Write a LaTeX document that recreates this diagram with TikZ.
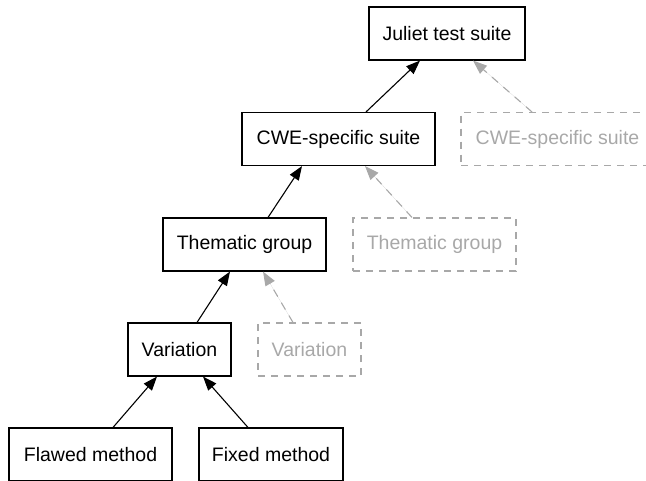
\documentclass[tikz,border=0pt]{standalone}
\usepackage{fontspec}
\setmainfont{Liberation Sans}
\usetikzlibrary{arrows.meta}
\definecolor{ghost}{HTML}{A8A8A8}
\tikzset{
  box/.style={draw=black, line width=1.1pt, rectangle, minimum height=53pt, inner sep=0pt,
    font=\fontsize{19.5}{22}\selectfont, text=black},
  ghostbox/.style={box, draw=ghost, text=ghost, dash pattern=on 7pt off 6pt},
  link/.style={line width=1.1pt, -{Triangle[length=14pt,width=10.5pt]}},
  ghostlink/.style={link, draw=ghost, fill=ghost, dash pattern=on 8pt off 7pt},
}
\begin{document}
\begin{tikzpicture}[x=1pt,y=-1pt]
\clip (0,0) rectangle (646,480);
\node[box, minimum width=156pt] (juliet) at (447,33.5) {Juliet test suite};
\node[box, minimum width=193pt] (cwe) at (338.5,139) {CWE-specific suite};
\node[ghostbox, minimum width=193pt] (gcwe) at (557.5,139) {CWE-specific suite};
\node[box, minimum width=163pt] (them) at (244.5,244.5) {Thematic group};
\node[ghostbox, minimum width=163pt] (gthem) at (434.5,244.5) {Thematic group};
\node[box, minimum width=103pt] (var) at (179.5,349.5) {Variation};
\node[ghostbox, minimum width=103pt] (gvar) at (309.5,349.5) {Variation};
\node[box, minimum width=163pt] (flawed) at (90.5,454.5) {Flawed method};
\node[box, minimum width=144pt] (fixed) at (271,454.5) {Fixed method};

\draw[link] ([xshift=27.5pt]cwe.north) -- ([xshift=-27pt]juliet.south);
\draw[ghostlink] ([xshift=-25.5pt]gcwe.north) -- ([xshift=26pt]juliet.south);
\draw[link] ([xshift=23.5pt]them.north) -- ([xshift=-36.5pt]cwe.south);
\draw[ghostlink] ([xshift=-22.5pt]gthem.north) -- ([xshift=26.5pt]cwe.south);
\draw[link] ([xshift=17.5pt]var.north) -- ([xshift=-14.5pt]them.south);
\draw[ghostlink] ([xshift=-16.5pt]gvar.north) -- ([xshift=18.5pt]them.south);
\draw[link] ([xshift=22.5pt]flawed.north) -- ([xshift=-22.5pt]var.south);
\draw[link] ([xshift=-23pt]fixed.north) -- ([xshift=23.5pt]var.south);
\end{tikzpicture}
\end{document}
